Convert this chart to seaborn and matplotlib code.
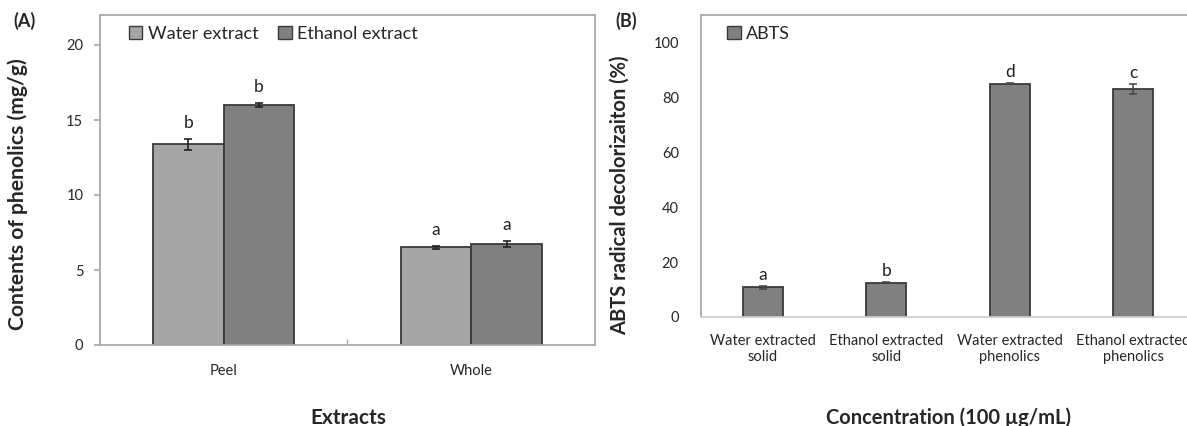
import matplotlib
matplotlib.use("Agg")
import matplotlib.pyplot as plt
import seaborn as sns
import pandas as pd
from matplotlib.patches import Patch

# ---- data ----
parts = ["Peel", "Whole"]
solvents = ["Water extract", "Ethanol extract"]
phenolics_water = [13.38, 6.51]
phenolics_ethanol = [16.0, 6.75]
phenolics_water_err = [0.35, 0.10]
phenolics_ethanol_err = [0.15, 0.20]
phenolics_letters_water = ["b", "a"]
phenolics_letters_ethanol = ["b", "a"]

abts_samples = ["Water extracted\nsolid", "Ethanol extracted\nsolid",
                "Water extracted\nphenolics", "Ethanol extracted\nphenolics"]
abts_values = [10.8, 12.5, 85.0, 83.1]
abts_err = [0.5, 0.2, 0.3, 1.7]
abts_letters = ["a", "b", "d", "c"]

sns.set_theme(style="white")
plt.rcParams["font.family"] = ["Lato", "DejaVu Sans"]

light_gray = "#A6A6A6"
dark_gray = "#808080"
edge = "#3a3a3a"
frame = "#A9A9A9"

fig = plt.figure(figsize=(11.87, 4.26), dpi=100)
W, H = 1187, 426


def box(l, t, r, b):
    return [l / W, 1 - b / H, (r - l) / W, (b - t) / H]


# ---- panel A: phenolic contents ----
axA = fig.add_axes(box(100, 15, 595, 345))
dfA = pd.DataFrame({
    "part": parts * 2,
    "solvent": [solvents[0]] * 2 + [solvents[1]] * 2,
    "value": phenolics_water + phenolics_ethanol,
})
sns.barplot(data=dfA, x="part", y="value", hue="solvent", order=parts,
            hue_order=solvents, palette=[light_gray, dark_gray], width=0.57,
            gap=0, errorbar=None, edgecolor=edge, linewidth=1.3, ax=axA,
            legend=False)
errsA = phenolics_water_err + phenolics_ethanol_err
lettersA = phenolics_letters_water + phenolics_letters_ethanol
valsA = phenolics_water + phenolics_ethanol
for patch, v, e, lt in zip(axA.patches, valsA, errsA, lettersA):
    xc = patch.get_x() + patch.get_width() / 2
    axA.errorbar(xc, v, yerr=e, fmt="none", ecolor="#222222",
                 elinewidth=1.2, capsize=3, capthick=1.2)
    axA.text(xc, v + e + 0.55, lt, ha="center", va="bottom", fontsize=12.5,
             color="#222222")
axA.set_ylim(0, 22)
axA.set_xlim(-0.5, 1.5)
axA.set_yticks([0, 5, 10, 15, 20])
axA.set_xticks([0.5], minor=True)
axA.set_xlabel("")
axA.set_ylabel("")
axA.tick_params(axis="y", labelsize=10.5, length=4, color=frame, pad=8,
                left=True, direction="out")
axA.tick_params(axis="x", which="major", labelsize=10.5, length=0, pad=14)
axA.tick_params(axis="x", which="minor", length=4, color=frame,
                direction="in", bottom=True)
for s in axA.spines.values():
    s.set_color(frame)
    s.set_linewidth(1.3)
axA.legend(handles=[Patch(facecolor=light_gray, edgecolor=edge, label=solvents[0]),
                    Patch(facecolor=dark_gray, edgecolor=edge, label=solvents[1])],
           loc="upper left", bbox_to_anchor=(0.04, 0.995), ncol=2, frameon=False,
           fontsize=13, handlelength=0.75, handleheight=0.75, handletextpad=0.3,
           columnspacing=1.1, borderaxespad=0.1)

fig.text(24 / W, 1 - 21 / H, "(A)", fontsize=13, fontweight="bold",
         ha="center", va="center")
fig.text(18 / W, 1 - 194 / H, "Contents of phenolics (mg/g)", rotation=90,
         fontsize=15.2, fontweight="bold", ha="center", va="center")
fig.text(348 / W, 1 - 418 / H, "Extracts", fontsize=15, fontweight="bold",
         ha="center", va="center")

# ---- panel B: ABTS radical decolorization ----
axB = fig.add_axes(box(701, 15, 1195, 317))
dfB = pd.DataFrame({"sample": abts_samples, "value": abts_values})
sns.barplot(data=dfB, x="sample", y="value", order=abts_samples,
            color=dark_gray, saturation=1, width=0.32, errorbar=None,
            edgecolor=edge, linewidth=1.3, ax=axB, label="ABTS")
for patch, v, e, lt in zip(axB.patches, abts_values, abts_err, abts_letters):
    xc = patch.get_x() + patch.get_width() / 2
    axB.errorbar(xc, v, yerr=e, fmt="none", ecolor="#444444",
                 elinewidth=1.1, capsize=3, capthick=1.1)
    axB.text(xc, v + e + 1.2, lt, ha="center", va="bottom", fontsize=12.5,
             color="#222222")
axB.set_ylim(0, 110)
axB.set_xlim(-0.5, 3.5)
axB.set_yticks([0, 20, 40, 60, 80, 100])
axB.set_xlabel("")
axB.set_ylabel("")
axB.tick_params(axis="y", labelsize=10.5, length=0, pad=16)
axB.tick_params(axis="x", labelsize=10.5, length=0, pad=12)
for s in axB.spines.values():
    s.set_color(frame)
    s.set_linewidth(1.3)
axB.spines["bottom"].set_color("#D0D0D0")
axB.legend(handles=[Patch(facecolor=dark_gray, edgecolor=edge, label="ABTS")],
           loc="upper left", bbox_to_anchor=(0.035, 0.995), frameon=False,
           fontsize=13, handlelength=0.75, handleheight=0.75, handletextpad=0.3,
           borderaxespad=0.1)

fig.text(626 / W, 1 - 21 / H, "(B)", fontsize=13, fontweight="bold",
         ha="center", va="center")
fig.text(620 / W, 1 - 195 / H, "ABTS radical decolorizaiton (%)", rotation=90,
         fontsize=14.5, fontweight="bold", ha="center", va="center")
fig.text(948 / W, 1 - 418 / H, "Concentration (100 \u00b5g/mL)", fontsize=14.5,
         fontweight="bold", ha="center", va="center")

fig.savefig("out.png", dpi=100, facecolor="white")
